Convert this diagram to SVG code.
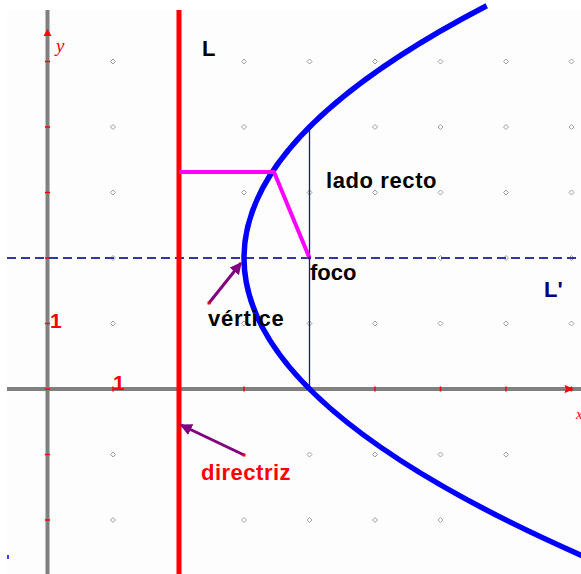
<svg xmlns="http://www.w3.org/2000/svg" width="581" height="574" viewBox="0 0 581 574">
<defs>
<style>
.axis{stroke:#808080;stroke-width:4;fill:none}
.tick{stroke:#ff0000;stroke-width:1.5}
.dot{fill:none;stroke:#a0a0a0;stroke-width:1}
.lbl{font-family:"Liberation Sans",Arial,sans-serif;font-size:22px;font-weight:bold;fill:#000}
.ptr{stroke:#800080;stroke-width:3;fill:none}
</style>
<marker id="ah" viewBox="0 0 10 10" refX="9" refY="5" markerWidth="4" markerHeight="4" orient="auto" markerUnits="strokeWidth">
<path d="M0,0 L10,5 L0,10 z" fill="#800080"/>
</marker>
<g id="d"><path class="dot" d="M-2.5,0 L0,-2.5 L2.5,0 L0,2.5 z"/></g>
</defs>
<rect x="0" y="0" width="581" height="574" fill="#fff"/>
<rect x="7" y="10" width="574" height="564" fill="#fdfdfd"/>

<g id="grid">
<use href="#d" x="113" y="61.5"/><use href="#d" x="244" y="61.5"/><use href="#d" x="309.5" y="61.5"/><use href="#d" x="375" y="61.5"/><use href="#d" x="440.5" y="61.5"/><use href="#d" x="506" y="61.5"/><use href="#d" x="571.5" y="61.5"/>
<use href="#d" x="113" y="127"/><use href="#d" x="244" y="127"/><use href="#d" x="375" y="127"/><use href="#d" x="440.5" y="127"/><use href="#d" x="506" y="127"/><use href="#d" x="571.5" y="127"/>
<use href="#d" x="113" y="192.5"/><use href="#d" x="244" y="192.5"/><use href="#d" x="309.5" y="192.5"/><use href="#d" x="375" y="192.5"/><use href="#d" x="440.5" y="192.5"/><use href="#d" x="506" y="192.5"/><use href="#d" x="571.5" y="192.5"/>
<use href="#d" x="113" y="258"/><use href="#d" x="440.5" y="258"/><use href="#d" x="506" y="258"/><use href="#d" x="571.5" y="258"/>
<use href="#d" x="113" y="323.5"/><use href="#d" x="244" y="323.5"/><use href="#d" x="309.5" y="323.5"/><use href="#d" x="375" y="323.5"/><use href="#d" x="440.5" y="323.5"/><use href="#d" x="506" y="323.5"/><use href="#d" x="571.5" y="323.5"/>
<use href="#d" x="113" y="454.5"/><use href="#d" x="309.5" y="454.5"/><use href="#d" x="375" y="454.5"/><use href="#d" x="440.5" y="454.5"/><use href="#d" x="506" y="454.5"/>
<use href="#d" x="113" y="520"/><use href="#d" x="244" y="520"/><use href="#d" x="309.5" y="520"/><use href="#d" x="375" y="520"/><use href="#d" x="440.5" y="520"/>
</g>

<g id="axes">
<line class="axis" x1="7" y1="389" x2="581" y2="389"/>
<line class="axis" x1="47.5" y1="10" x2="47.5" y2="574"/>
<g class="tick">
<line x1="45" y1="61.5" x2="50" y2="61.5"/><line x1="45" y1="127" x2="50" y2="127"/><line x1="45" y1="192.5" x2="50" y2="192.5"/><line x1="45" y1="258" x2="50" y2="258"/><line x1="45" y1="323.5" x2="50" y2="323.5"/><line x1="45" y1="389" x2="50" y2="389"/><line x1="45" y1="454.5" x2="50" y2="454.5"/><line x1="45" y1="520" x2="50" y2="520"/>
<line x1="113" y1="386.5" x2="113" y2="391.5"/><line x1="244" y1="386.5" x2="244" y2="391.5"/><line x1="309.5" y1="386.5" x2="309.5" y2="391.5"/><line x1="375" y1="386.5" x2="375" y2="391.5"/><line x1="440.5" y1="386.5" x2="440.5" y2="391.5"/><line x1="506" y1="386.5" x2="506" y2="391.5"/><line x1="571.5" y1="386.5" x2="571.5" y2="391.5"/>
</g>
<path d="M47.5,29 L43.5,36 L51.5,36 z" fill="#ff0000"/>
<path d="M574,389 L566,385.5 L566,392.5 z" fill="#ff0000"/>
<path d="M565,385 Q568,389 565,393" stroke="#ff0000" stroke-width="1" fill="none"/>
<text x="56" y="52" font-family="Liberation Serif,serif" font-style="italic" font-size="19" fill="#ff0000">y</text>
<text x="576" y="419" font-family="Liberation Serif,serif" font-style="italic" font-size="15" fill="#ff0000">x</text>
<text x="50" y="328" class="lbl" style="fill:#ff0000;font-size:21px">1</text>
<text x="113" y="390" class="lbl" style="fill:#ff0000;font-size:21px">1</text>
<line x1="8" y1="555" x2="8" y2="559" stroke="#0000ff" stroke-width="1.5"/>
</g>

<g id="axisL">
<line x1="7" y1="258" x2="581" y2="258" stroke="#3434a8" stroke-width="2" stroke-dasharray="9,5"/>
<text x="544" y="297" class="lbl" style="fill:#000080">L'</text>
</g>

<g id="latus">
<line x1="309.5" y1="127" x2="309.5" y2="389" stroke="#1a1a80" stroke-width="1.3"/>
<text x="326" y="188" class="lbl" style="letter-spacing:0.6px">lado recto</text>
</g>

<g id="directrix">
<line x1="179" y1="10" x2="179" y2="574" stroke="#ff0000" stroke-width="5"/>
<text x="201" y="480" class="lbl" style="fill:#ff0000;letter-spacing:0.5px">directriz</text>
<text x="202" y="56" class="lbl">L</text>
</g>

<g id="parabola">
<path d="M486.7,5.8 Q-46,282.6 590.5,559.3" stroke="#0000ff" stroke-width="5.5" fill="none"/>
</g>

<g id="magenta">
<polyline points="179,172 274,172 309.5,258" stroke="#ff00ff" stroke-width="4" fill="none" stroke-linejoin="round"/>
</g>

<g id="focus">
<circle cx="309.5" cy="258" r="1.5" fill="#1a1a80"/>
<text x="310" y="280" class="lbl">foco</text>
</g>

<g id="connectors">
<line class="ptr" x1="209" y1="303" x2="241" y2="263" marker-end="url(#ah)"/>
<line class="ptr" x1="244" y1="455" x2="181" y2="425" marker-end="url(#ah)"/>
<rect x="207.5" y="301.5" width="3" height="3" fill="#ff0000"/>
<rect x="242.5" y="453.5" width="3" height="3" fill="#ff0000"/>
</g>

<g id="vertex">
<text x="208" y="326" class="lbl" style="letter-spacing:0.8px">vértice</text>
</g>
</svg>
